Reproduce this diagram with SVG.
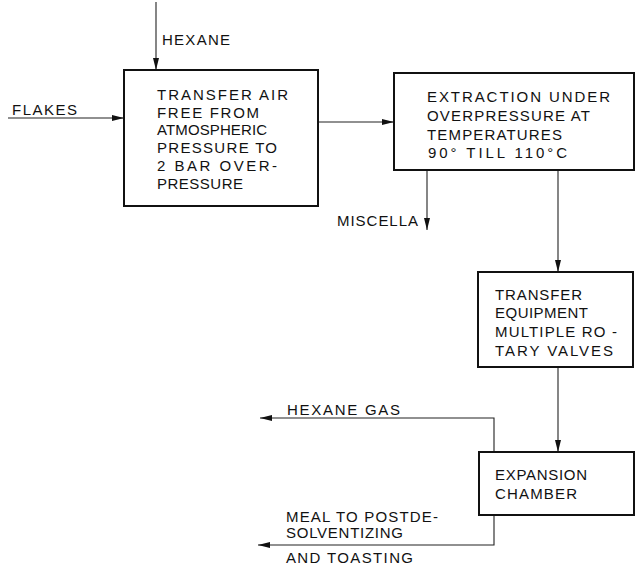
<svg xmlns="http://www.w3.org/2000/svg" width="636" height="567" viewBox="0 0 636 567">
<style>
.box{fill:#fff;stroke:#111;stroke-width:2}
.con{fill:none;stroke:#222;stroke-width:1.1}
text{font-family:"Liberation Sans","DejaVu Sans",sans-serif;font-size:15px;fill:#111}
</style>
<defs>
<marker id="ah" viewBox="0 0 12 7" refX="12" refY="3.5" markerWidth="12" markerHeight="7" markerUnits="userSpaceOnUse" orient="auto">
<path d="M0,0.5 L12,3.5 L0,6.5 Z" fill="#111"/>
</marker>
</defs>
<rect width="636" height="567" fill="#fff"/>
<g id="connectors">
<path class="con" d="M156,2 V70" marker-end="url(#ah)"/>
<path class="con" d="M8,118 H124" marker-end="url(#ah)"/>
<path class="con" d="M318,122 H394" marker-end="url(#ah)"/>
<path class="con" d="M427,170 V230" marker-end="url(#ah)"/>
<path class="con" d="M558,170 V272" marker-end="url(#ah)"/>
<path class="con" d="M558,367 V452" marker-end="url(#ah)"/>
<path class="con" d="M494,452 V418 H260" marker-end="url(#ah)"/>
<path class="con" d="M494,515 V545 H258" marker-end="url(#ah)"/>
</g>
<g id="labels">
<text x="162" y="45" textLength="68" lengthAdjust="spacing">HEXANE</text>
<text x="12" y="115" textLength="65" lengthAdjust="spacing">FLAKES</text>
<text x="337" y="226" textLength="81" lengthAdjust="spacing">MISCELLA</text>
<text x="287" y="415" textLength="113" lengthAdjust="spacing">HEXANE GAS</text>
<text x="286" y="522" textLength="152" lengthAdjust="spacing">MEAL TO POSTDE-</text>
<text x="286" y="538" textLength="117" lengthAdjust="spacing">SOLVENTIZING</text>
<text x="286" y="563" textLength="127" lengthAdjust="spacing">AND TOASTING</text>
</g>
<g id="transfer-air-free">
<rect class="box" x="124" y="70" width="194" height="136"/>
<text x="157" y="100" textLength="131" lengthAdjust="spacing">TRANSFER AIR</text>
<text x="157" y="117.5" textLength="102" lengthAdjust="spacing">FREE FROM</text>
<text x="157" y="135" textLength="110" lengthAdjust="spacing">ATMOSPHERIC</text>
<text x="157" y="153" textLength="120" lengthAdjust="spacing">PRESSURE TO</text>
<text x="157" y="171" textLength="120" lengthAdjust="spacing">2 BAR OVER-</text>
<text x="157" y="189" textLength="86" lengthAdjust="spacing">PRESSURE</text>
</g>
<g id="extraction">
<rect class="box" x="394" y="73" width="240" height="97"/>
<text x="427" y="102" textLength="183" lengthAdjust="spacing">EXTRACTION UNDER</text>
<text x="427" y="121" textLength="163" lengthAdjust="spacing">OVERPRESSURE AT</text>
<text x="427" y="140" textLength="135" lengthAdjust="spacing">TEMPERATURES</text>
<text x="428" y="158" textLength="139" lengthAdjust="spacing">90° TILL 110°C</text>
</g>
<g id="transfer-equipment">
<rect class="box" x="478" y="272" width="155" height="95"/>
<text x="495" y="300" textLength="87" lengthAdjust="spacing">TRANSFER</text>
<text x="495" y="318" textLength="93" lengthAdjust="spacing">EQUIPMENT</text>
<text x="495" y="337" textLength="122" lengthAdjust="spacing">MULTIPLE RO -</text>
<text x="495" y="356" textLength="118" lengthAdjust="spacing">TARY VALVES</text>
</g>
<g id="expansion-chamber">
<rect class="box" x="479" y="452" width="155" height="63"/>
<text x="495" y="480" textLength="92" lengthAdjust="spacing">EXPANSION</text>
<text x="495" y="499" textLength="82" lengthAdjust="spacing">CHAMBER</text>
</g>
</svg>
